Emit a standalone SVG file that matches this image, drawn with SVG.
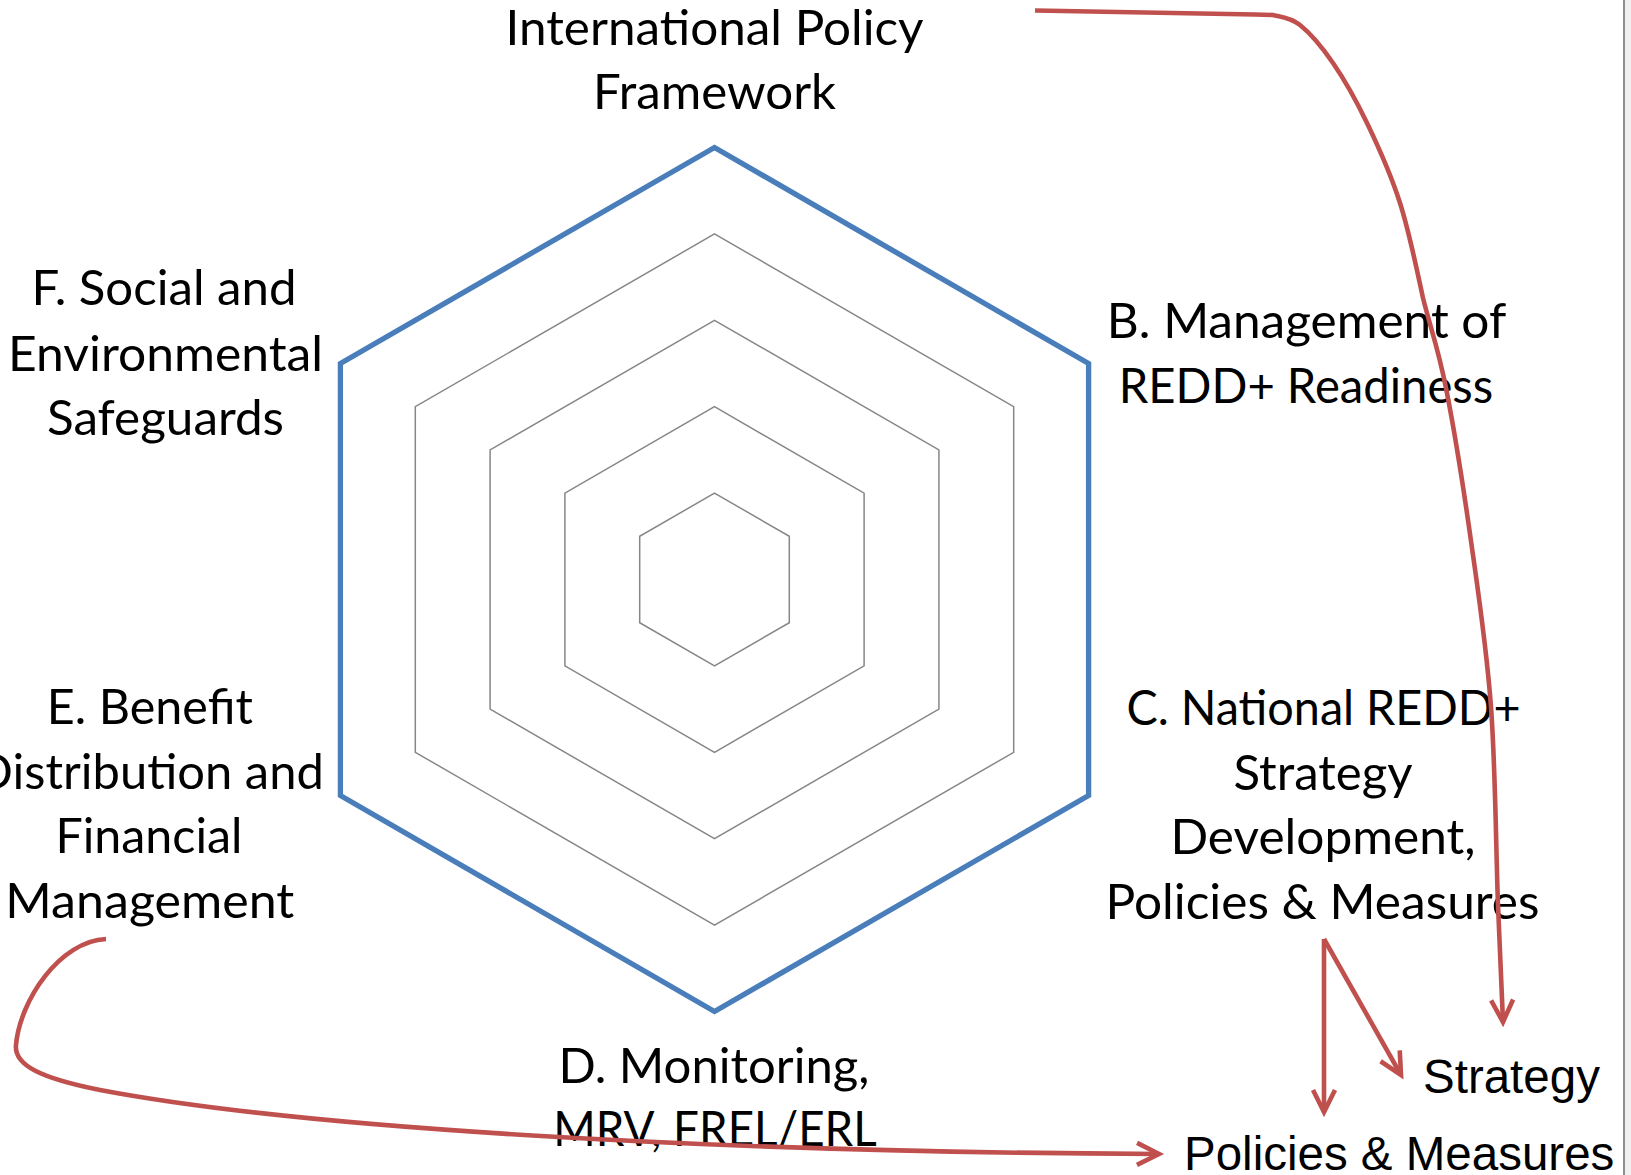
<svg xmlns="http://www.w3.org/2000/svg" width="1631" height="1175" viewBox="0 0 1631 1175">
<style>
.lbl{font-family:Lato,"Open Sans","DejaVu Sans",sans-serif;font-size:48px;fill:#000;text-anchor:middle}
.sub{font-family:"Liberation Sans",Arial,sans-serif;font-size:47.5px;fill:#000}
.grid{fill:none;stroke:#878787;stroke-width:1.5}
.outer{fill:none;stroke:#4a7ebb;stroke-width:5.3;stroke-linejoin:miter}
.conn{fill:none;stroke:#c0504d;stroke-width:4.6;stroke-linecap:butt}
</style>
<defs>
<marker id="arr" markerUnits="userSpaceOnUse" markerWidth="40" markerHeight="40" viewBox="-30 -20 40 40" refX="0" refY="0" orient="auto">
<path d="M-22,-11 L0,0 L-22,11" fill="none" stroke="#c0504d" stroke-width="4.6"/>
</marker>
</defs>
<rect width="1631" height="1175" fill="#ffffff"/>
<rect x="1625" y="0" width="6" height="1175" fill="#f0f0f0"/>
<line x1="1624" y1="0" x2="1624" y2="1175" stroke="#8f8f8f" stroke-width="2"/>

<g id="radar">
<polygon class="grid" points="714.5,493.1 789.3,536.3 789.3,622.7 714.5,665.9 639.7,622.7 639.7,536.3"/>
<polygon class="grid" points="714.5,406.7 864.1,493.1 864.1,665.9 714.5,752.3 564.9,665.9 564.9,493.1"/>
<polygon class="grid" points="714.5,320.3 938.9,449.9 938.9,709.1 714.5,838.7 490.1,709.1 490.1,449.9"/>
<polygon class="grid" points="714.5,233.9 1013.7,406.7 1013.7,752.3 714.5,925.1 415.3,752.3 415.3,406.7"/>
<polygon class="outer" points="714.5,147.5 1088.6,363.5 1088.6,795.5 714.5,1011.5 340.4,795.5 340.4,363.5"/>
</g>

<g id="label-a">
<text class="lbl" x="714.6" y="45" textLength="418" lengthAdjust="spacingAndGlyphs">International Policy</text>
<text class="lbl" x="714.6" y="108.5" textLength="243" lengthAdjust="spacingAndGlyphs">Framework</text>
</g>
<g id="label-b">
<text class="lbl" x="1306.5" y="338" textLength="399.5" lengthAdjust="spacingAndGlyphs">B. Management of</text>
<text class="lbl" x="1306" y="403" textLength="374.5" lengthAdjust="spacingAndGlyphs">REDD+ Readiness</text>
</g>
<g id="label-c">
<text class="lbl" x="1323.5" y="725" textLength="394" lengthAdjust="spacingAndGlyphs">C. National REDD+</text>
<text class="lbl" x="1323" y="789.5" textLength="179" lengthAdjust="spacingAndGlyphs">Strategy</text>
<text class="lbl" x="1323" y="854" textLength="305" lengthAdjust="spacingAndGlyphs">Development,</text>
<text class="lbl" x="1322.5" y="919" textLength="434" lengthAdjust="spacingAndGlyphs">Policies &amp; Measures</text>
</g>
<g id="label-d">
<text class="lbl" x="714" y="1083" textLength="311" lengthAdjust="spacingAndGlyphs">D. Monitoring,</text>
<text class="lbl" x="715" y="1146" textLength="323.5" lengthAdjust="spacingAndGlyphs">MRV, FREL/ERL</text>
</g>
<g id="label-e">
<text class="lbl" x="149.8" y="724" textLength="206" lengthAdjust="spacingAndGlyphs">E. Benefit</text>
<text class="lbl" x="149.8" y="788.5" textLength="348" lengthAdjust="spacingAndGlyphs">Distribution and</text>
<text class="lbl" x="149" y="853" textLength="187" lengthAdjust="spacingAndGlyphs">Financial</text>
<text class="lbl" x="149.8" y="918" textLength="289" lengthAdjust="spacingAndGlyphs">Management</text>
</g>
<g id="label-f">
<text class="lbl" x="164" y="305" textLength="265" lengthAdjust="spacingAndGlyphs">F. Social and</text>
<text class="lbl" x="165.5" y="370.5" textLength="315" lengthAdjust="spacingAndGlyphs">Environmental</text>
<text class="lbl" x="165.5" y="435" textLength="237" lengthAdjust="spacingAndGlyphs">Safeguards</text>
</g>
<g id="node-strategy">
<text class="sub" x="1423" y="1093">Strategy</text>
</g>
<g id="node-pm">
<text class="sub" x="1184" y="1170">Policies &amp; Measures</text>
</g>

<g id="connectors">
<path class="conn" marker-end="url(#arr)" d="M1035,10.5 L1255,14.5 L1273,15 C1280.5,16.75 1290,17 1300,25 C1310,33 1321.8,46.7 1333,63 C1344.2,79.3 1355.8,99.7 1367,123 C1378.2,146.3 1390.7,173.8 1400,203 C1409.3,232.2 1416,265.7 1423,298 C1430.7,328.8 1438,347.5 1446,388 C1454,428.5 1463.5,487.8 1471,541 C1478.5,594.2 1486.5,646.3 1491,707 C1495.5,767.7 1496,852.5 1498,905 C1500,957.5 1502.2,1002.5 1503,1022"/>
<path class="conn" marker-end="url(#arr)" d="M1324,939 L1324,1112"/>
<path class="conn" marker-end="url(#arr)" d="M1324,939 L1401,1075"/>
<path class="conn" marker-end="url(#arr)" d="M106,939 C60,941 20,1000 16,1045 C14,1065 40,1078 100,1090 C300,1128 700,1152 1159,1154"/>
</g>
</svg>
